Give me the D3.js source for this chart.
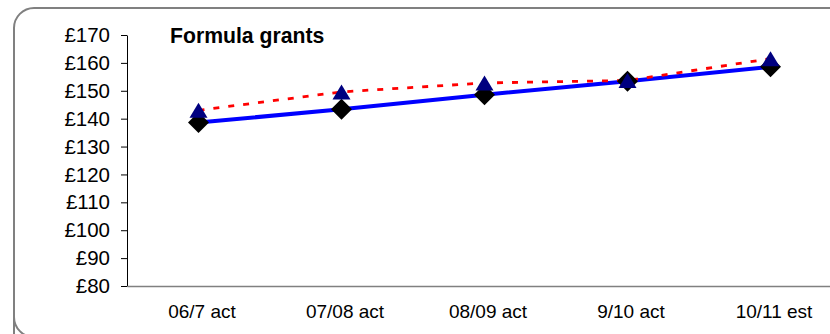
<!DOCTYPE html>
<html>
<head>
<meta charset="utf-8">
<script src="https://cdn.jsdelivr.net/npm/d3@7"></script>
<style>
  html, body { margin: 0; padding: 0; background: #fff; overflow: hidden; }
  svg { display: block; overflow: hidden; font-family: "Liberation Sans", Arial, sans-serif; }
</style>
</head>
<body>
<svg id="chart" width="830" height="334"></svg>
<script>
const categories = ["06/7 act", "07/08 act", "08/09 act", "9/10 act", "10/11 est"];
const seriesBlue = [138.6, 143.4, 148.6, 153.4, 158.6];
const seriesRed = [143.0, 149.6, 152.8, 153.7, 161.5];
const yTicks = [80, 90, 100, 110, 120, 130, 140, 150, 160, 170];
const title = "Formula grants";

const svg = d3.select("#chart");

// outer rounded frame (extends past right/bottom edges)
svg.append("path")
  .attr("d", "M14,360 L14,28 A20,20 0 0 1 34,8 L829,8 A20,20 0 0 1 849,28")
  .attr("fill", "none")
  .attr("stroke", "#808080")
  .attr("stroke-width", 2);
// bottom-left corner curve (bottom edge lies below the visible area)
svg.append("path")
  .attr("d", "M14,300 L14,317 A20,20 0 0 0 34,337 L900,337")
  .attr("fill", "none")
  .attr("stroke", "#808080")
  .attr("stroke-width", 2);

const x = d3.scalePoint().domain(categories).range([127, 842]).padding(0.5);
const y = d3.scaleLinear().domain([80, 170]).range([286, 35]);

// Y axis
const yAxis = svg.append("g")
  .attr("transform", "translate(127,0)")
  .call(d3.axisLeft(y).tickValues(yTicks).tickFormat(d => "£" + d).tickSize(6).tickPadding(11).tickSizeOuter(0));
yAxis.select(".domain").attr("stroke", "#000").attr("stroke-width", 1);
yAxis.selectAll(".tick line").attr("stroke", "#000");
yAxis.selectAll(".tick text").attr("font-size", 20.5).attr("fill", "#000")
  .attr("font-family", "'Liberation Sans', Arial, sans-serif");

// X axis
const xAxis = svg.append("g")
  .attr("transform", "translate(0,286)")
  .call(d3.axisBottom(x).tickSize(0).tickPadding(19).tickSizeOuter(0));
xAxis.select(".domain").attr("stroke", "#808080").attr("stroke-width", 1.5);
xAxis.selectAll(".tick text").attr("font-size", 19).attr("fill", "#000")
  .attr("dx", 3)
  .attr("font-family", "'Liberation Sans', Arial, sans-serif");

// Title
svg.append("text")
  .attr("x", 170).attr("y", 43)
  .attr("font-size", 21.2).attr("font-weight", "bold")
  .attr("fill", "#000")
  .text(title);

const line = d3.line().x((d, i) => x(categories[i])).y(d => y(d));

svg.append("path")
  .datum(seriesBlue)
  .attr("d", line)
  .attr("fill", "none")
  .attr("stroke", "#0000ff")
  .attr("stroke-width", 4);

svg.append("path")
  .datum(seriesRed)
  .attr("d", line)
  .attr("fill", "none")
  .attr("stroke", "#ff0000")
  .attr("stroke-width", 2.8)
  .attr("stroke-dasharray", "6,9");

// diamonds
const dH = 10.5;
svg.append("g").selectAll("path")
  .data(seriesBlue)
  .join("path")
  .attr("transform", (d, i) => `translate(${x(categories[i])},${y(d)})`)
  .attr("d", `M0,${-dH}L${dH},0L0,${dH}L${-dH},0Z`)
  .attr("fill", "#000");

// triangles
const tw = 9, th = 7.5;
svg.append("g").selectAll("path")
  .data(seriesRed)
  .join("path")
  .attr("transform", (d, i) => `translate(${x(categories[i])},${y(d)})`)
  .attr("d", `M0,${-th}L${tw},${th}L${-tw},${th}Z`)
  .attr("fill", "#000080");
</script>
</body>
</html>
